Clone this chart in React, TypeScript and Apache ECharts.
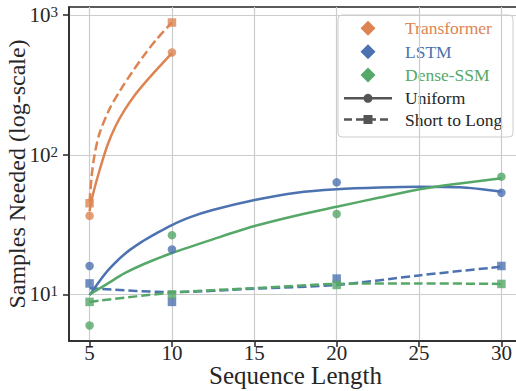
import React, { useEffect, useRef } from "react";
import * as echarts from "echarts";

const FONT = "Liberation Serif";
const TEXT = "#262626";
const C_TRANSFORMER = "#dd8452";
const C_LSTM = "#4c72b0";
const C_DENSE = "#55a868";

const xTicks = [5, 10, 15, 20, 25, 30];
const yTickExponents = [1, 2, 3]; // 10^1, 10^2, 10^3

// Observed points
const transformerLengths = [5, 10];
const transformerUniform = [36.6, 540];
const transformerShortToLong = [45, 885];

const lengths = [5, 10, 20, 30];
const lstmUniform = [16, 21, 63.5, 53.5];
const lstmShortToLong = [12, 8.85, 13, 16];
const denseUniform = [6.0, 26.6, 37.7, 69.7];
const denseShortToLong = [8.85, 10, 11.7, 11.9];

// Fitted curves
const trUniFitX = [5, 5.18, 5.61, 6.09, 6.58, 7.13, 7.73, 8.46, 9.25, 10];
const trUniFitY = [39.5, 50.7, 77.8, 117.5, 160.7, 209.4, 266, 338, 429.6, 535];
const trStlFitX = [5, 5.12, 5.3, 5.61, 6.21, 6.88, 7.55, 8.28, 9.07, 10];
const trStlFitY = [45.9, 69.3, 99.7, 143.2, 212.8, 291.7, 385.5, 510.6, 671.6, 885];

const lstmUniFitX = [5, 5.61, 6.21, 7.13, 8.14, 9.13, 10, 11.07, 12.47, 15.02, 17.57, 20, 22.61, 25.04, 27.47, 30];
const lstmUniFitY = [9.9, 12.5, 15.3, 19.5, 23.7, 27.7, 31.4, 35.6, 40.2, 47.4, 53.5, 56.6, 58.3, 59.0, 58.5, 54.4];
const denseUniFitX = [5, 6.09, 7.13, 8.34, 10, 12.47, 15.02, 17.57, 20, 22.61, 25.04, 27.47, 30];
const denseUniFitY = [10, 11.95, 14.2, 16.6, 19.8, 24.8, 30.9, 36.8, 42.5, 49.4, 56.6, 62.3, 67.9];

const lstmStlFitX = [5, 10, 15, 20, 25, 30];
const lstmStlFitY = [11.1, 10.4, 11.0, 11.7, 13.7, 15.8];
const denseStlFitX = [5, 10, 15, 20, 25, 30];
const denseStlFitY = [8.85, 10.3, 11.1, 11.9, 12.0, 11.9];

// Axis range (log10 of samples)
const yLogMin = 0.667;
const yLogMax = 3.058;

const zipLog = (xs: number[], ys: number[]) => xs.map((x, i) => [x, Math.log10(ys[i])]);

const legendModels = [
  { name: "Transformer", color: C_TRANSFORMER },
  { name: "LSTM", color: C_LSTM },
  { name: "Dense-SSM", color: C_DENSE },
];
const legendStyles = [
  { name: "Uniform", dashed: false },
  { name: "Short to Long", dashed: true },
];

function fitSeries(xs: number[], ys: number[], color: string, dashed: boolean) {
  return {
    type: "line",
    data: zipLog(xs, ys),
    smooth: 0.3,
    showSymbol: false,
    symbol: "none",
    z: 2,
    lineStyle: {
      color,
      width: 2.5,
      type: dashed ? [9, 4] : "solid",
      cap: "butt",
    },
  };
}

function pointSeries(xs: number[], ys: number[], color: string, square: boolean) {
  return {
    type: "scatter",
    data: zipLog(xs, ys),
    symbol: square ? "rect" : "circle",
    symbolSize: 8.5,
    z: 3,
    itemStyle: { color, opacity: 0.8 },
  };
}

function buildLegend() {
  const left = 338;
  const top = 15;
  const rowY = [28.3, 51.7, 75, 98.3, 119.5];
  const handleX = 368;
  const textX = 405;
  const children: any[] = [
    {
      type: "rect",
      shape: { x: left, y: top, width: 175, height: 122, r: 4 },
      style: { fill: "rgba(255,255,255,0.85)", stroke: "#cccccc", lineWidth: 1 },
    },
  ];
  legendModels.forEach((m, i) => {
    const y = rowY[i];
    const h = 7.5;
    children.push({
      type: "polygon",
      shape: { points: [[handleX, y - h], [handleX + h, y], [handleX, y + h], [handleX - h, y]] },
      style: { fill: m.color },
    });
    children.push({
      type: "text",
      x: textX,
      y,
      style: { text: m.name, fill: m.color, font: `17.5px "${FONT}"`, verticalAlign: "middle", align: "left" },
    });
  });
  legendStyles.forEach((s, i) => {
    const y = rowY[3 + i];
    children.push({
      type: "line",
      shape: { x1: 344, y1: y, x2: 392, y2: y },
      style: { stroke: "#555555", lineWidth: 2.5, lineDash: s.dashed ? [8, 4] : null },
    });
    if (s.dashed) {
      children.push({
        type: "rect",
        shape: { x: handleX - 4.5, y: y - 4.5, width: 9, height: 9 },
        style: { fill: "#555555" },
      });
    } else {
      children.push({
        type: "circle",
        shape: { cx: handleX, cy: y, r: 4.5 },
        style: { fill: "#555555" },
      });
    }
    children.push({
      type: "text",
      x: textX,
      y,
      style: { text: s.name, fill: TEXT, font: `17.5px "${FONT}"`, verticalAlign: "middle", align: "left" },
    });
  });
  return [{ type: "group", z: 100, children }];
}

export default function App() {
  const ref = useRef<HTMLDivElement>(null);
  useEffect(() => {
    if (!ref.current) return;
    const chart = echarts.init(ref.current, undefined, { renderer: "svg" });
    const axisLineStyle = { color: TEXT, width: 1.5 };
    chart.setOption({
      animation: false,
      backgroundColor: "#ffffff",
      textStyle: { fontFamily: FONT },
      grid: {
        left: 69,
        top: 7,
        right: -6,
        bottom: 50,
        containLabel: false,
        outerBoundsMode: "none",
        show: true,
        borderColor: TEXT,
        borderWidth: 1.5,
        backgroundColor: "transparent",
      },
      xAxis: {
        type: "value",
        min: 3.75,
        max: 31.25,
        name: "Sequence Length",
        nameLocation: "middle",
        nameGap: 22,
        nameMoveOverlap: false,
        nameTextStyle: { fontFamily: FONT, fontSize: 25, lineHeight: 24, color: TEXT },
        axisLine: { show: true, onZero: false, lineStyle: axisLineStyle },
        axisTick: { show: true, length: 6, lineStyle: axisLineStyle, customValues: xTicks },
        axisLabel: { customValues: xTicks, margin: 4, lineHeight: 16, fontFamily: FONT, fontSize: 21, color: TEXT },
        splitLine: { show: true, lineStyle: { color: "#cccccc", width: 1.2 } },
      },
      yAxis: {
        type: "value",
        min: yLogMin,
        max: yLogMax,
        name: "Samples Needed (log-scale)",
        nameLocation: "middle",
        nameGap: 40,
        nameMoveOverlap: false,
        nameTextStyle: { fontFamily: FONT, fontSize: 24, color: TEXT },
        axisLine: { show: true, onZero: false, lineStyle: axisLineStyle },
        axisTick: { show: true, length: 6, lineStyle: axisLineStyle, customValues: yTickExponents },
        axisLabel: {
          customValues: yTickExponents,
          margin: 11,
          formatter: (v: number) => `{b|10}{s|${Math.round(v)}}`,
          rich: {
            b: { fontFamily: FONT, fontSize: 21, color: TEXT },
            s: { fontFamily: FONT, fontSize: 15, color: TEXT, verticalAlign: "top" },
          },
        },
        splitLine: { show: true, lineStyle: { color: "#cccccc", width: 1.2 } },
      },
      series: [
        fitSeries(trUniFitX, trUniFitY, C_TRANSFORMER, false),
        fitSeries(trStlFitX, trStlFitY, C_TRANSFORMER, true),
        fitSeries(lstmUniFitX, lstmUniFitY, C_LSTM, false),
        fitSeries(lstmStlFitX, lstmStlFitY, C_LSTM, true),
        fitSeries(denseUniFitX, denseUniFitY, C_DENSE, false),
        fitSeries(denseStlFitX, denseStlFitY, C_DENSE, true),
        pointSeries(transformerLengths, transformerUniform, C_TRANSFORMER, false),
        pointSeries(transformerLengths, transformerShortToLong, C_TRANSFORMER, true),
        pointSeries(lengths, lstmUniform, C_LSTM, false),
        pointSeries(lengths, lstmShortToLong, C_LSTM, true),
        pointSeries(lengths, denseUniform, C_DENSE, false),
        pointSeries(lengths, denseShortToLong, C_DENSE, true),
      ],
      graphic: buildLegend(),
    });
    return () => chart.dispose();
  }, []);
  return (
    <div
      ref={ref}
      style={{ position: "fixed", left: 0, top: 0, width: 516, height: 391 }}
    />
  );
}
